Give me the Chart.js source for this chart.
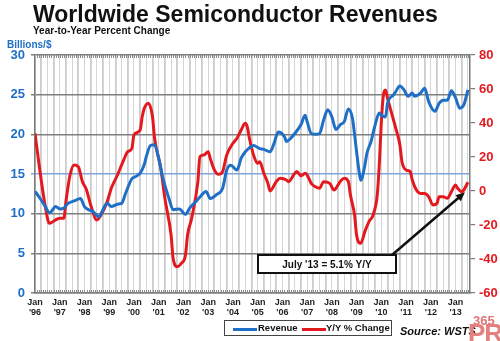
<!DOCTYPE html>
<html>
<head>
<meta charset="utf-8">
<script src="https://cdn.jsdelivr.net/npm/chart.js@4.4.1/dist/chart.umd.min.js"></script>
<style>
  html, body { margin: 0; padding: 0; background: #fff; }
  #wrap { position: relative; width: 500px; height: 341px; overflow: hidden; font-family: 'Liberation Sans', Arial, sans-serif; }
  #chart { position: absolute; left: 0; top: 0; }
  .txt { position: absolute; white-space: nowrap; font-weight: bold; }
  #title { left: 33px; top: 1px; font-size: 23px; color: #111; }
  #subtitle { left: 33px; top: 25px; font-size: 10px; color: #111; }
  #units { left: 7px; top: 39px; font-size: 10px; color: #1f6fc6; }
  #legend { position: absolute; left: 224px; top: 320px; width: 166px; height: 14px; border: 1px solid #444; font-size: 9.5px; font-weight: bold; color: #111; }
  .key { position: absolute; top: 7px; width: 24px; height: 3px; }
  .klabel { position: absolute; top: 1px; }
  #source { left: 400px; top: 325px; font-size: 11px; font-style: italic; color: #111; }
  #mark1 { left: 473px; top: 313px; font-size: 13px; color: #de7474; }
  #mark2 { left: 468px; top: 318px; font-size: 26px; color: #e48080; letter-spacing: -1px; }
</style>
</head>
<body>
<div id="wrap">
  <canvas id="chart" width="500" height="341"></canvas>
  <div class="txt" id="title">Worldwide Semiconductor Revenues</div>
  <div class="txt" id="subtitle">Year-to-Year Percent Change</div>
  <div class="txt" id="units">Billions/$</div>
  <div id="legend">
    <div class="key" style="left:8px;background:#1f6fc6"></div>
    <div class="klabel" style="left:33px">Revenue</div>
    <div class="key" style="left:77px;background:#e3191f"></div>
    <div class="klabel" style="left:101px">Y/Y % Change</div>
  </div>
  <div class="txt" id="source">Source: WSTS</div>
  <div class="txt" id="mark1">365</div>
  <div class="txt" id="mark2">PR</div>
</div>
<script>
// months counted from Jan '96
const revMonths = [0, 2, 5, 7, 8, 10, 12, 14, 16, 19, 22, 24, 26, 28, 31, 32, 35, 37, 40, 42,
    44, 47, 49, 51, 53, 54, 56, 58, 60, 62, 65, 67, 70, 73, 75, 78, 80, 83, 85, 88,
    91, 93, 95, 98, 100, 102, 104, 106, 109, 111, 114, 116, 118, 121, 122, 124, 126, 129, 131, 132,
    134, 136, 138, 140, 142, 144, 146, 148, 150, 152, 154, 155, 157, 158, 160, 161, 163, 165, 167, 168,
    170, 171, 174, 175, 177, 179, 181, 183, 184, 187, 189, 191, 194, 196, 198, 200, 202, 204, 206, 208,
    209, 210];
const revValues = [12.8, 12.1, 10.9, 10.1, 10.3, 10.9, 10.6, 10.7, 11.3, 11.6, 11.9, 10.9, 10.5, 10.3, 9.6, 10.0, 11.3, 10.9, 11.2, 11.3,
    12.6, 14.4, 14.7, 15.1, 16.2, 17.2, 18.6, 18.7, 17.0, 14.5, 11.9, 10.5, 10.6, 9.9, 10.7, 11.5, 12.1, 12.8, 11.9, 12.4,
    13.2, 15.5, 16.1, 15.5, 17.0, 17.8, 18.3, 18.6, 18.2, 18.1, 17.8, 18.9, 20.3, 19.7, 19.1, 19.5, 20.1, 21.2, 22.4, 21.6,
    20.1, 20.0, 20.1, 21.8, 23.1, 22.2, 20.6, 21.2, 21.6, 23.2, 22.0, 20.0, 15.7, 14.2, 16.1, 17.6, 19.1, 21.2, 22.7, 22.4,
    22.2, 23.9, 25.0, 25.4, 26.1, 25.6, 24.8, 25.2, 24.8, 25.2, 25.8, 24.1, 22.9, 23.9, 24.3, 24.3, 25.5, 24.6, 23.3, 23.7,
    24.6, 25.6];

const yoyMonths = [0, 2, 5, 7, 10, 12, 14, 15, 17, 19, 21, 23, 25, 27, 30, 32, 35, 37, 40, 43,
    45, 47, 48, 51, 52, 53, 55, 57, 58, 61, 63, 66, 67, 69, 71, 73, 74, 76, 79, 80,
    82, 84, 85, 87, 89, 91, 93, 96, 98, 100, 102, 103, 104, 106, 108, 109, 111, 113, 114, 117,
    119, 122, 123, 126, 127, 129, 131, 132, 134, 136, 138, 140, 143, 145, 148, 150, 152, 153, 155, 156,
    158, 160, 162, 164, 166, 167, 168, 169, 170, 171, 173, 175, 177, 178, 180, 182, 183, 185, 187, 189,
    191, 193, 195, 196, 198, 200, 202, 204, 205, 207, 208, 210];
const yoyValues = [33.9, 15.3, -9.2, -19, -17, -16, -16, -6.3, 9.4, 15.3, 14.3, 5.5, 0.6, -8.2, -17, -14.1, -6.3, 1.6, 9.4, 18.2,
    23.1, 25.1, 32.9, 35.9, 43.7, 48.6, 51.6, 43.7, 31, 13.4, -4.3, -25.9, -39.6, -44.5, -42.5, -37.6, -25.9, -16, 5.5, 20.2,
    21.2, 23.1, 19.2, 12.4, 9.8, 11.4, 21.2, 28.1, 31, 35.9, 39.8, 37.5, 31, 21.2, 16.3, 17.2, 10.4, 4.5, 0, 5.5,
    7.5, 6.5, 5.5, 10.4, 11.4, 9.0, 10.4, 9.4, 4.5, 2.5, 1.6, 5.5, 4.5, 0.6, 5.5, 7.5, 5.5, -2.4, -14, -26,
    -30.8, -23.9, -18, -14.1, -2.4, 15.3, 40.8, 56.5, 59.4, 54.5, 45.7, 36.9, 27.1, 17.2, 12.4, 11.4, 6.5, 0.6, -1.4, -1.4,
    -3.4, -8.2, -7.2, -3.4, -3.4, -4.3, -0.4, 3.5, 1.6, -0.4, 0.6, 5.1];

const yearLabels = ["'96", "'97", "'98", "'99", "'00", "'01", "'02", "'03", "'04",
    "'05", "'06", "'07", "'08", "'09", "'10", "'11", "'12", "'13"];

const calloutText = "July '13 = 5.1% Y/Y";

const BLUE = '#1f6fc6';
const RED = '#e3191f';
const FONT = "'Liberation Sans', Arial, sans-serif";

const toPoints = (xs, ys) => xs.map((x, i) => ({ x, y: ys[i] }));

// short tick marks along the top and bottom frame, plus the callout with its arrow
const framePlugin = {
    id: 'frame',
    afterDatasetsDraw(chart) {
        const { ctx, chartArea: area, scales: { x, yPct } } = chart;
        ctx.save();
        ctx.strokeStyle = '#8a8a8a';
        ctx.lineWidth = 1;
        for (let m = 1; m < 211; m += 1) {
            const px = Math.round(x.getPixelForValue(m)) + 0.5;
            ctx.beginPath();
            ctx.moveTo(px, area.bottom);
            ctx.lineTo(px, area.bottom - 3);
            ctx.moveTo(px, area.top);
            ctx.lineTo(px, area.top + 3);
            ctx.stroke();
        }

        // callout box
        const bx = area.left + 223, by = area.top + 200, bw = 138, bh = 18;
        ctx.fillStyle = '#fff';
        ctx.fillRect(bx, by, bw, bh);
        ctx.strokeStyle = '#111';
        ctx.lineWidth = 2;
        ctx.strokeRect(bx, by, bw, bh);
        ctx.fillStyle = '#111';
        ctx.font = `bold 10px ${FONT}`;
        ctx.textAlign = 'center';
        ctx.textBaseline = 'middle';
        ctx.fillText(calloutText, bx + bw / 2, by + bh / 2 + 1);

        // arrow to the latest Y/Y reading
        const last = yoyMonths.length - 1;
        const tipX = x.getPixelForValue(yoyMonths[last]) - 3;
        const tipY = yPct.getPixelForValue(yoyValues[last]) + 10;
        const sx = bx + bw - 4, sy = by;
        const ang = Math.atan2(tipY - sy, tipX - sx);
        ctx.lineWidth = 2.5;
        ctx.beginPath();
        ctx.moveTo(sx, sy);
        ctx.lineTo(tipX - 6 * Math.cos(ang), tipY - 6 * Math.sin(ang));
        ctx.stroke();
        ctx.beginPath();
        ctx.moveTo(tipX, tipY);
        ctx.lineTo(tipX - 9 * Math.cos(ang) + 4 * Math.sin(ang), tipY - 9 * Math.sin(ang) - 4 * Math.cos(ang));
        ctx.lineTo(tipX - 9 * Math.cos(ang) - 4 * Math.sin(ang), tipY - 9 * Math.sin(ang) + 4 * Math.cos(ang));
        ctx.closePath();
        ctx.fill();
        ctx.restore();
    },
};

new Chart(document.getElementById('chart'), {
    type: 'line',
    data: {
        datasets: [
            {
                label: 'Revenue',
                data: toPoints(revMonths, revValues),
                yAxisID: 'yRev',
                borderColor: BLUE,
                borderWidth: 3,
                pointRadius: 0,
                cubicInterpolationMode: 'monotone',
            },
            {
                label: 'Y/Y % Change',
                data: toPoints(yoyMonths, yoyValues),
                yAxisID: 'yPct',
                borderColor: RED,
                borderWidth: 3,
                pointRadius: 0,
                cubicInterpolationMode: 'monotone',
            },
        ],
    },
    options: {
        responsive: false,
        animation: false,
        layout: { padding: { top: 55, left: 0, right: 0, bottom: 0 } },
        plugins: { legend: { display: false }, tooltip: { enabled: false } },
        scales: {
            x: {
                type: 'linear',
                min: 0,
                max: 211,
                afterBuildTicks(scale) {
                    const ticks = [];
                    for (let m = 0; m <= 210; m += 3) ticks.push({ value: m });
                    scale.ticks = ticks;
                },
                afterFit(scale) { scale.height = 48; },
                grid: {
                    color: (ctx) => (ctx.tick && ctx.tick.value % 6 === 0 ? '#d6d6d6' : '#cccccc'),
                    lineWidth: (ctx) => (ctx.tick && ctx.tick.value % 6 === 0 ? 1 : 1.8),
                    drawTicks: false,
                },
                border: { color: '#7a7a7a', width: 1.5 },
                ticks: {
                    autoSkip: false,
                    maxRotation: 0,
                    padding: 5,
                    color: '#222',
                    font: { family: FONT, size: 9, weight: 'bold', lineHeight: 1.1 },
                    callback: (v) => (v % 12 === 0 ? ['Jan', yearLabels[v / 12]] : ''),
                },
            },
            yRev: {
                position: 'left',
                min: 0,
                max: 30,
                afterFit(scale) { scale.width = 35; },
                grid: {
                    color: (ctx) => (ctx.tick && ctx.tick.value === 15 ? '#7fa6dc' : '#7f7f7f'),
                    lineWidth: 1.5,
                    tickLength: 4,
                },
                border: { color: '#7a7a7a', width: 1.5 },
                ticks: {
                    stepSize: 5,
                    padding: 6,
                    color: BLUE,
                    font: { family: FONT, size: 13, weight: 'bold' },
                },
            },
            yPct: {
                position: 'right',
                min: -60,
                max: 80,
                afterFit(scale) { scale.width = 30; },
                grid: { drawOnChartArea: false, tickLength: 5, color: '#7a7a7a', lineWidth: 1.2 },
                border: { color: '#7a7a7a', width: 1.5 },
                ticks: {
                    stepSize: 20,
                    padding: 4,
                    color: RED,
                    font: { family: FONT, size: 13, weight: 'bold' },
                },
            },
        },
    },
    plugins: [framePlugin],
});
</script>
</body>
</html>
